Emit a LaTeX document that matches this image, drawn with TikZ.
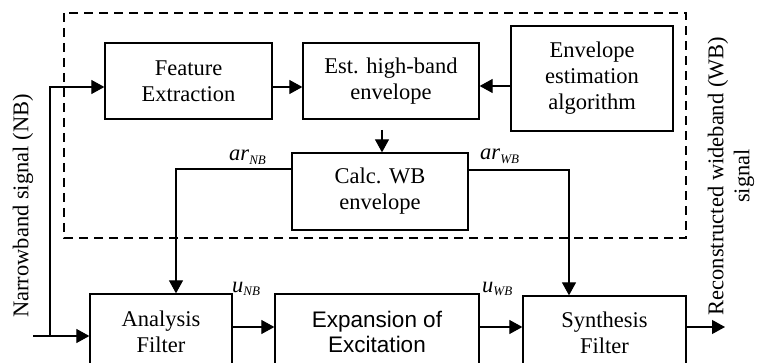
\documentclass[tikz,border=0pt]{standalone}
\usepackage{fontspec}
\setmainfont{Liberation Serif}
\newfontfamily\arialfont{Liberation Sans}
\usetikzlibrary{arrows.meta}
\tikzset{
  blk/.style={draw, line width=1.3pt, inner sep=0pt, align=center},
  conn/.style={line width=1.2pt, -{Triangle[length=13pt,width=14pt]}},
  lbl/.style={anchor=base west, inner sep=0pt},
}
\newcommand{\subl}[2]{\textit{#1}\raisebox{-3.5pt}{\fontsize{13}{13}\selectfont\textit{#2}}}
\begin{document}
\begin{tikzpicture}[x=1pt,y=-1pt,font=\fontsize{22.5}{26}\selectfont]
\useasboundingbox (0,0) rectangle (760,363);
\clip (0,0) rectangle (760,363);
% dashed enclosure
\draw[line width=1.2pt, dash pattern=on 9pt off 6pt] (64,13) rectangle (686,238);
% blocks
\node[blk, minimum width=167pt, minimum height=76pt] (fe) at (188.5,81) {Feature\\Extraction};
\node[blk, minimum width=176pt, minimum height=76pt] (est) at (391,81) {Est. high-band\\envelope};
\node[blk, minimum width=162pt, minimum height=105pt] (env) at (592,78.5) {Envelope\\estimation\\algorithm};
\node[blk, minimum width=176pt, minimum height=77pt] (calc) at (380,191.5) {Calc. WB\\envelope};
\node[blk, minimum width=142pt, minimum height=76pt] (ana) at (161,332) {Analysis\\Filter};
\node[blk, minimum width=204pt, minimum height=76pt, font=\arialfont\fontsize{22.5}{25}\selectfont] (exp) at (377,332) {Expansion of\\Excitation};
\node[blk, minimum width=163pt, minimum height=74pt] (syn) at (604.5,333) {Synthesis\\Filter};
% side texts
\node[rotate=90, inner sep=0pt] (nb) at (23,206) {Narrowband signal (NB)};
\node[rotate=90, inner sep=0pt, align=center] (wb) at (731,176) {Reconstructed wideband (WB)\\signal};
% coordinates
\coordinate (in) at (33,336);
\coordinate (br) at (50,336);
\coordinate (fy) at (0,87);
\coordinate (ey) at (0,86);
\coordinate (ec) at (382,130);
\coordinate (anx) at (176,169);
\coordinate (awx) at (569,170);
\coordinate (uy) at (0,327);
\coordinate (out) at (725,327);
% connectors
\draw[conn] (in) -- (in -| ana.west);
\draw[conn] (br) |- (fe.west |- fy);
\draw[conn] (fe.east |- fy) -- (est.west |- fy);
\draw[conn] (env.west |- ey) -- (est.east |- ey);
\draw[conn] (ec) -- (ec |- calc.north);
\draw[conn] (calc.west |- anx) -- (anx) -- (anx |- ana.north);
\draw[conn] (calc.east |- awx) -- (awx) -- (awx |- syn.north);
\draw[conn] (ana.east |- uy) -- (exp.west |- uy);
\draw[conn] (exp.east |- uy) -- (syn.west |- uy);
\draw[conn] (syn.east |- out) -- (out);
% labels
\node[lbl] (lnb) at (229,161) {\subl{ar}{NB}};
\node[lbl] (lwb) at (480,160) {\subl{ar}{WB}};
\node[lbl] (unb) at (232,292) {\subl{u}{NB}};
\node[lbl] (uwb) at (482,292) {\subl{u}{WB}};
\end{tikzpicture}
\end{document}
